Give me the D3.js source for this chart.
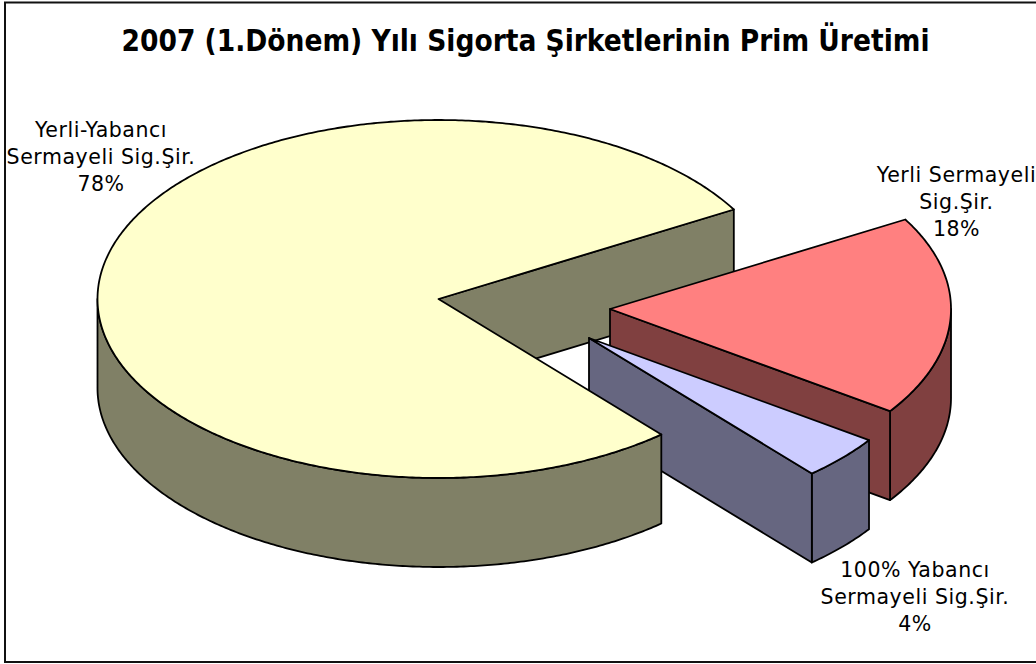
<!DOCTYPE html>
<html>
<head>
<meta charset="utf-8">
<script src="https://cdn.jsdelivr.net/npm/d3@7/dist/d3.min.js"></script>
<style>
html,body{margin:0;padding:0;background:#fff;}
svg{display:block;}
text{font-family:"DejaVu Sans",Verdana,sans-serif;fill:#000;text-anchor:middle;}
text.title{font-family:"DejaVu Sans Condensed","DejaVu Sans",sans-serif;font-stretch:condensed;font-weight:bold;}
</style>
</head>
<body>
<svg id="chart" width="1036" height="664"></svg>
<script>
const chartTitle = "2007 (1.Dönem) Yılı Sigorta Şirketlerinin Prim Üretimi";
const categories = ["Yerli Sermayeli Sig.Şir.", "100% Yabancı Sermayeli Sig.Şir.", "Yerli-Yabancı Sermayeli Sig.Şir."];
const shareValues = [18, 4, 78];
const labelLines = [["Yerli Sermayeli", "Sig.Şir."], ["100% Yabancı", "Sermayeli Sig.Şir."], ["Yerli-Yabancı", "Sermayeli Sig.Şir."]];
const topColors = ["#FF8080", "#CCCCFF", "#FFFFCC"];
const sideColors = ["#804040", "#666680", "#808066"];

const svg = d3.select("#chart");
const W = 1036, H = 664;

svg.append("rect").attr("x", 5).attr("y", 2.5).attr("width", W + 10).attr("height", 659.5)
  .attr("fill", "#fff").attr("stroke", "#111").attr("stroke-width", 2);

svg.append("text").attr("class", "title").attr("x", 525.5).attr("y", 51)
  .attr("font-size", 29.5).text(chartTitle);

// Projection of the tilted unit disc
const CX = 438, CY = 299, RX = 341, RY = 179, DEPTH = 89;
const sx = d3.scaleLinear().domain([-1, 1]).range([-RX, RX]);
const sy = d3.scaleLinear().domain([-1, 1]).range([-RY, RY]);

const arcs = d3.pie().sort(null).value(d => d).startAngle(Math.PI / 3).endAngle(Math.PI / 3 + 2 * Math.PI)(shareValues);

// explosion offset of each slice from the common centre
const offsets = [[172, 10], [151, 39], [0.5, 0]];
const px = (i, a, z = 0) => [CX + offsets[i][0] + sx(Math.sin(a)), CY + offsets[i][1] - sy(Math.cos(a)) + z];
const centre = (i, z = 0) => [CX + offsets[i][0], CY + offsets[i][1] + z];

function arcPoints(i, a0, a1, z) {
  const n = Math.max(2, Math.ceil(Math.abs(a1 - a0) / 0.01));
  return d3.range(n + 1).map(k => px(i, a0 + (a1 - a0) * k / n, z));
}
const line = d3.line();
const draw = (pts, fill) => svg.append("path").attr("d", line(pts) + "Z")
  .attr("fill", fill).attr("stroke", "#000").attr("stroke-width", 1.8).attr("stroke-linejoin", "round");

function cutWall(i, a) {
  draw([centre(i), px(i, a), px(i, a, DEPTH), centre(i, DEPTH)], sideColors[i]);
}
function outerWall(i, a0, a1) {
  const top = arcPoints(i, a0, a1, 0), bot = arcPoints(i, a1, a0, DEPTH);
  draw(top.concat(bot), sideColors[i]);
}
function topFace(i) {
  const d = arcs[i];
  draw([centre(i)].concat(arcPoints(i, d.startAngle, d.endAngle, 0)), topColors[i]);
}

// Painter's order: back wall of the large slice, exploded slices, then the large slice's front
const RIGHT = Math.PI / 2;
const LEFT = 3 * Math.PI / 2;
cutWall(2, arcs[2].endAngle);

outerWall(0, RIGHT, arcs[0].endAngle);
cutWall(0, arcs[0].endAngle);
topFace(0);

outerWall(1, arcs[1].startAngle, arcs[1].endAngle);
cutWall(1, arcs[1].endAngle);
topFace(1);

outerWall(2, arcs[2].startAngle, LEFT);
topFace(2);

// Data labels
const labelPos = [[956.5, 182], [915, 577], [101, 137]];
const LINE = 27;
shareValues.forEach((v, i) => {
  const t = svg.append("text").attr("font-size", 20.5).attr("letter-spacing", 0.55).attr("aria-label", categories[i]);
  labelLines[i].concat([v + "%"]).forEach((s, k) => {
    t.append("tspan").attr("x", labelPos[i][0]).attr("y", labelPos[i][1] + k * LINE).text(s);
  });
});
</script>
</body>
</html>
